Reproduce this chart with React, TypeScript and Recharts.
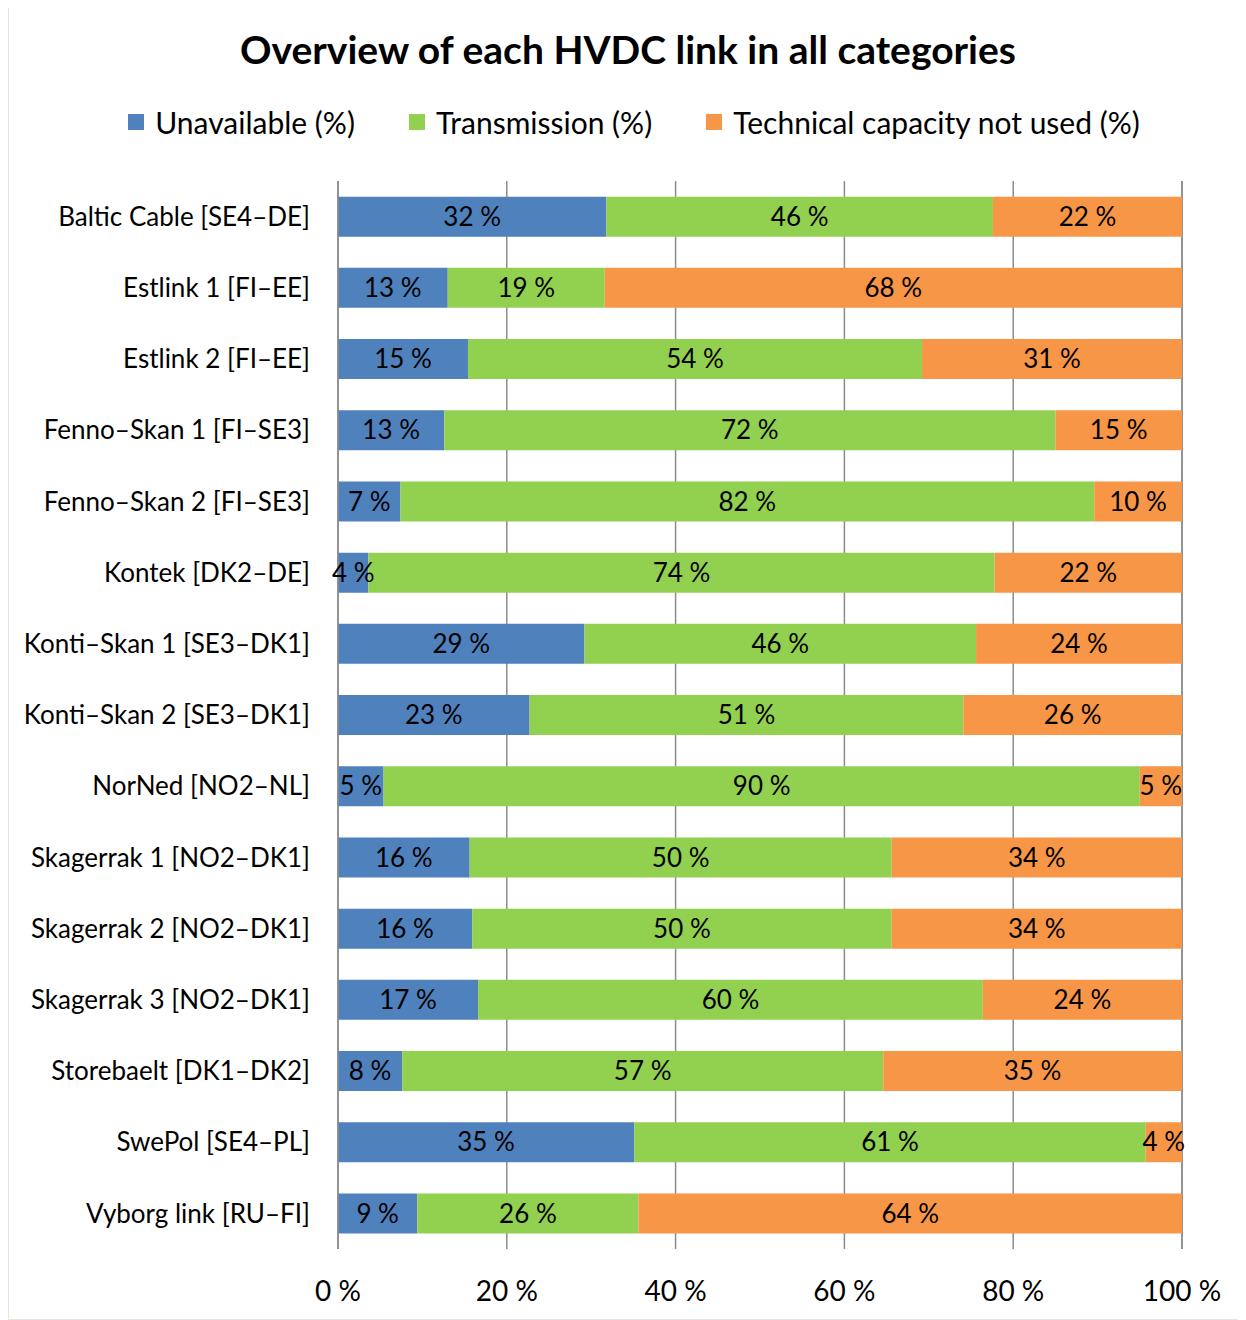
import { BarChart, Bar, XAxis, YAxis, CartesianGrid, LabelList } from "recharts";

// HVDC links and the share of time (%) in each category
const links = [
  "Baltic Cable [SE4–DE]",
  "Estlink 1 [FI–EE]",
  "Estlink 2 [FI–EE]",
  "Fenno–Skan 1 [FI–SE3]",
  "Fenno–Skan 2 [FI–SE3]",
  "Kontek [DK2–DE]",
  "Konti–Skan 1 [SE3–DK1]",
  "Konti–Skan 2 [SE3–DK1]",
  "NorNed [NO2–NL]",
  "Skagerrak 1 [NO2–DK1]",
  "Skagerrak 2 [NO2–DK1]",
  "Skagerrak 3 [NO2–DK1]",
  "Storebaelt [DK1–DK2]",
  "SwePol [SE4–PL]",
  "Vyborg link [RU–FI]",
];
const unavailable = [31.8, 13.0, 15.4, 12.6, 7.4, 3.6, 29.2, 22.7, 5.4, 15.6, 15.9, 16.6, 7.6, 35.1, 9.4];
const transmission = [45.8, 18.6, 53.8, 72.4, 82.2, 74.2, 46.4, 51.4, 89.6, 50.0, 49.7, 59.8, 57.0, 60.6, 26.2];
const notUsed = [22.4, 68.4, 30.8, 15.0, 10.4, 22.2, 24.4, 25.9, 5.0, 34.4, 34.4, 23.6, 35.4, 4.3, 64.4];
const xTicks = [0, 20, 40, 60, 80, 100];

const series = [
  { key: "unavailable", name: "Unavailable (%)", color: "#4F81BD" },
  { key: "transmission", name: "Transmission (%)", color: "#92D050" },
  { key: "notUsed", name: "Technical capacity not used (%)", color: "#F79646" },
];

const FONT = "Lato, 'Open Sans', sans-serif";

export default function App() {
  const data = links.map((name, i) => ({
    name,
    unavailable: unavailable[i],
    transmission: transmission[i],
    notUsed: notUsed[i],
  }));

  return (
    <div
      style={{
        position: "relative",
        width: 1232,
        height: 1315,
        marginTop: -3,
        border: "1px solid #e6e4dc",
        boxSizing: "border-box",
        fontFamily: FONT,
        background: "#fff",
      }}
    >
      <div
        style={{
          position: "absolute",
          top: 23,
          left: 0,
          width: 1238,
          textAlign: "center",
          fontSize: 39,
          lineHeight: "40px",
          fontWeight: 700,
          color: "#000",
        }}
      >
        Overview of each HVDC link in all categories
      </div>
      <div
        style={{
          position: "absolute",
          top: 98,
          left: 0,
          width: 1250,
          display: "flex",
          justifyContent: "center",
          gap: 54,
          fontSize: 30,
          lineHeight: "36px",
          color: "#000",
        }}
      >
        {series.map((s) => (
          <div key={s.key} style={{ display: "flex", alignItems: "center" }}>
            <span style={{ display: "inline-block", width: 16, height: 16, background: s.color, marginRight: 11 }} />
            <span>{s.name}</span>
          </div>
        ))}
      </div>
      <BarChart
        width={1232}
        height={1313}
        data={data}
        layout="vertical"
        barCategoryGap="22%"
        margin={{ top: 175, right: 59, left: 0, bottom: 8 }}
        style={{ position: "absolute", top: 0, left: 0 }}
      >
        <CartesianGrid horizontal={false} stroke="#8c8c8c" strokeWidth={1.5} />
        <XAxis
          type="number"
          domain={[0, 100]}
          ticks={xTicks}
          tickFormatter={(v) => `${v} %`}
          axisLine={false}
          tickLine={false}
          tickMargin={26}
          height={62}
          tick={{ fontSize: 28, fill: "#000", fontFamily: FONT }}
        />
        <YAxis
          type="category"
          dataKey="name"
          width={329}
          axisLine={{ stroke: "#8c8c8c", strokeWidth: 1.5 }}
          tickLine={false}
          tickSize={0}
          tickMargin={28}
          interval={0}
          tick={{ fontSize: 26, fill: "#000", fontFamily: FONT }}
        />
        {series.map((s) => (
          <Bar key={s.key} dataKey={s.key} name={s.name} stackId="a" fill={s.color} isAnimationActive={false}>
            <LabelList
              dataKey={s.key}
              position="center"
              formatter={(v: any) => `${Math.round(Number(v))} %`}
              style={{ fontSize: 26, fill: "#000", fontFamily: FONT }}
            />
          </Bar>
        ))}
      </BarChart>
    </div>
  );
}
